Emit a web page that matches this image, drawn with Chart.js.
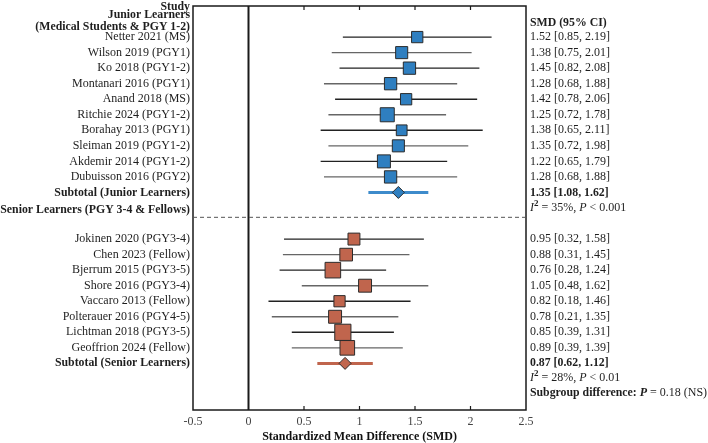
<!DOCTYPE html>
<html>
<head>
<meta charset="utf-8">
<script src="https://cdn.jsdelivr.net/npm/chart.js@4.4.1/dist/chart.umd.min.js"></script>
<style>
html, body { margin: 0; padding: 0; background: #fff; }
</style>
</head>
<body>
<canvas id="forest" width="708" height="443"></canvas>
<script>
// junior learners (medical students & PGY 1-2)
const juniorStudies = ["Netter 2021 (MS)", "Wilson 2019 (PGY1)", "Ko 2018 (PGY1-2)", "Montanari 2016 (PGY1)",
    "Anand 2018 (MS)", "Ritchie 2024 (PGY1-2)", "Borahay 2013 (PGY1)", "Sleiman 2019 (PGY1-2)",
    "Akdemir 2014 (PGY1-2)", "Dubuisson 2016 (PGY2)"];
const juniorSmd = [1.52, 1.38, 1.45, 1.28, 1.42, 1.25, 1.38, 1.35, 1.22, 1.28];
const juniorLow = [0.85, 0.75, 0.82, 0.68, 0.78, 0.72, 0.65, 0.72, 0.65, 0.68];
const juniorHigh = [2.19, 2.01, 2.08, 1.88, 2.06, 1.78, 2.11, 1.98, 1.79, 1.88];
const juniorWeight = [8.6, 9.8, 10.2, 10.2, 8.6, 13.3, 7.8, 9.8, 11.4, 10.2];
const juniorPooled = [1.35, 1.08, 1.62];

// senior learners (PGY 3-4 & fellows)
const seniorStudies = ["Jokinen 2020 (PGY3-4)", "Chen 2023 (Fellow)", "Bjerrum 2015 (PGY3-5)", "Shore 2016 (PGY3-4)",
    "Vaccaro 2013 (Fellow)", "Polterauer 2016 (PGY4-5)", "Lichtman 2018 (PGY3-5)", "Geoffrion 2024 (Fellow)"];
const seniorSmd = [0.95, 0.88, 0.76, 1.05, 0.82, 0.78, 0.85, 0.89];
const seniorLow = [0.32, 0.31, 0.28, 0.48, 0.18, 0.21, 0.39, 0.39];
const seniorHigh = [1.58, 1.45, 1.24, 1.62, 1.46, 1.35, 1.31, 1.39];
const seniorWeight = [9.6, 10.8, 16.4, 11.3, 8.5, 11.3, 17.7, 14.4];
const seniorPooled = [0.87, 0.62, 1.12];

const xTicks = [-0.5, 0, 0.5, 1, 1.5, 2, 2.5];

const FONT = '"Liberation Serif", "Times New Roman", serif';
const BLUE = "#2f7fc0";
const BLUE_LINE = "#3d8bcb";
const BROWN = "#c0654d";

// row positions: junior rows 1..10, subtotal 11, senior rows 14..21, subtotal 22
const juniorRows = juniorStudies.map((s, i) => i + 1);
const seniorRows = seniorStudies.map((s, i) => i + 14);
const juniorSubRow = 11;
const seniorSubRow = 22;

function fmt(v) { return v.toFixed(2); }
function boxRadius(w) { return 3.85 * Math.sqrt(w) / Math.SQRT2; }

const datasets = [];

// squares
datasets.push({
    type: "scatter",
    order: 0,
    data: juniorSmd.map((v, i) => ({ x: v, y: juniorRows[i] }))
        .concat(seniorSmd.map((v, i) => ({ x: v, y: seniorRows[i] }))),
    pointStyle: "rect",
    pointRadius: juniorWeight.map(boxRadius).concat(seniorWeight.map(boxRadius)),
    backgroundColor: juniorSmd.map(() => BLUE).concat(seniorSmd.map(() => BROWN)),
    borderColor: "#2b2b2b",
    borderWidth: 1
});

// pooled diamonds
datasets.push({
    type: "scatter",
    order: 0,
    data: [{ x: juniorPooled[0], y: juniorSubRow }, { x: seniorPooled[0], y: seniorSubRow }],
    pointStyle: "rectRot",
    pointRadius: 6,
    backgroundColor: [BLUE, BROWN],
    borderColor: "#2b2b2b",
    borderWidth: 1
});

// confidence intervals
juniorSmd.forEach((v, i) => {
    datasets.push({
        type: "line", order: 1,
        data: [{ x: juniorLow[i], y: juniorRows[i] }, { x: juniorHigh[i], y: juniorRows[i] }],
        borderColor: i % 2 ? "#666" : "#222", borderWidth: 1.4, pointRadius: 0
    });
});
seniorSmd.forEach((v, i) => {
    datasets.push({
        type: "line", order: 1,
        data: [{ x: seniorLow[i], y: seniorRows[i] }, { x: seniorHigh[i], y: seniorRows[i] }],
        borderColor: i % 2 ? "#666" : "#222", borderWidth: 1.4, pointRadius: 0
    });
});
datasets.push({
    type: "line", order: 1,
    data: [{ x: juniorPooled[1], y: juniorSubRow }, { x: juniorPooled[2], y: juniorSubRow }],
    borderColor: BLUE_LINE, borderWidth: 3, pointRadius: 0
});
datasets.push({
    type: "line", order: 1,
    data: [{ x: seniorPooled[1], y: seniorSubRow }, { x: seniorPooled[2], y: seniorSubRow }],
    borderColor: BROWN, borderWidth: 3, pointRadius: 0
});

// frame, inner ticks, null line, group separator
const framePlugin = {
    id: "frame",
    beforeDatasetsDraw(chart) {
        const { ctx, chartArea: a, scales } = chart;
        const x = scales.x, y = scales.y;
        ctx.save();
        ctx.strokeStyle = "#1a1a1a";
        ctx.lineWidth = 1.5;
        ctx.strokeRect(a.left, a.top, a.right - a.left, a.bottom - a.top);

        ctx.lineWidth = 1.2;
        xTicks.forEach(t => {
            if (t <= xTicks[0] || t >= xTicks[xTicks.length - 1] || t === 0) return;
            const px = x.getPixelForValue(t);
            ctx.beginPath();
            ctx.moveTo(px, a.bottom); ctx.lineTo(px, a.bottom - 4);
            ctx.moveTo(px, a.top); ctx.lineTo(px, a.top + 4);
            ctx.stroke();
        });

        const zx = x.getPixelForValue(0);
        ctx.lineWidth = 2;
        ctx.beginPath();
        ctx.moveTo(zx, a.top); ctx.lineTo(zx, a.bottom);
        ctx.stroke();

        const sy = y.getPixelForValue((juniorSubRow + seniorRows[0]) / 2 + 0.1);
        ctx.strokeStyle = "#555";
        ctx.lineWidth = 1;
        ctx.setLineDash([4, 3]);
        ctx.beginPath();
        ctx.moveTo(a.left, sy); ctx.lineTo(a.right, sy);
        ctx.stroke();
        ctx.restore();
    }
};

// study labels and effect sizes
function drawRuns(ctx, x, y, runs) {
    runs.forEach(r => {
        ctx.font = r.font;
        ctx.fillText(r.text, x, y + (r.dy || 0));
        x += ctx.measureText(r.text).width;
    });
}

const textPlugin = {
    id: "texts",
    afterDraw(chart) {
        const { ctx, chartArea: a, scales } = chart;
        const y = scales.y;
        const reg = "12px " + FONT, bold = "bold 11.8px " + FONT;
        const lx = a.left - 3, rx = a.right + 4;
        ctx.save();
        ctx.fillStyle = "#1e1e1e";
        ctx.textBaseline = "middle";

        ctx.textAlign = "right";
        ctx.font = bold;
        ctx.fillText("Study", lx, y.getPixelForValue(-0.95));
        ctx.fillText("Junior Learners", lx, y.getPixelForValue(-0.42));
        ctx.fillText("(Medical Students & PGY 1-2)", lx, y.getPixelForValue(0.35));
        ctx.fillText("Subtotal (Junior Learners)", lx, y.getPixelForValue(juniorSubRow));
        ctx.fillText("Senior Learners (PGY 3-4 & Fellows)", lx, y.getPixelForValue(12.1));
        ctx.fillText("Subtotal (Senior Learners)", lx, y.getPixelForValue(seniorSubRow));
        ctx.font = reg;
        juniorStudies.forEach((s, i) => ctx.fillText(s, lx, y.getPixelForValue(juniorRows[i])));
        seniorStudies.forEach((s, i) => ctx.fillText(s, lx, y.getPixelForValue(seniorRows[i])));

        ctx.textAlign = "left";
        ctx.font = bold;
        ctx.fillText("SMD (95% CI)", rx, y.getPixelForValue(0.1));
        ctx.font = reg;
        juniorSmd.forEach((v, i) => ctx.fillText(fmt(v) + " [" + fmt(juniorLow[i]) + ", " + fmt(juniorHigh[i]) + "]",
            rx, y.getPixelForValue(juniorRows[i])));
        seniorSmd.forEach((v, i) => ctx.fillText(fmt(v) + " [" + fmt(seniorLow[i]) + ", " + fmt(seniorHigh[i]) + "]",
            rx, y.getPixelForValue(seniorRows[i])));
        ctx.font = bold;
        ctx.fillText(fmt(juniorPooled[0]) + " [" + fmt(juniorPooled[1]) + ", " + fmt(juniorPooled[2]) + "]",
            rx, y.getPixelForValue(juniorSubRow));
        ctx.fillText(fmt(seniorPooled[0]) + " [" + fmt(seniorPooled[1]) + ", " + fmt(seniorPooled[2]) + "]",
            rx, y.getPixelForValue(seniorSubRow));

        const ital = "italic 12px " + FONT, sup = "bold 9px " + FONT;
        drawRuns(ctx, rx, y.getPixelForValue(12), [
            { text: "I", font: ital }, { text: "2", font: sup, dy: -4 },
            { text: " = 35%, ", font: reg }, { text: "P", font: ital }, { text: " < 0.001", font: reg }
        ]);
        drawRuns(ctx, rx, y.getPixelForValue(22.95), [
            { text: "I", font: ital }, { text: "2", font: sup, dy: -4 },
            { text: " = 28%, ", font: reg }, { text: "P", font: ital }, { text: " < 0.01", font: reg }
        ]);
        drawRuns(ctx, rx, y.getPixelForValue(23.9), [
            { text: "Subgroup difference: ", font: bold }, { text: "P", font: "bold italic 12px " + FONT },
            { text: " = 0.18 (NS)", font: reg }
        ]);
        ctx.restore();
    }
};

new Chart(document.getElementById("forest").getContext("2d"), {
    type: "scatter",
    data: { datasets: datasets },
    options: {
        responsive: false,
        animation: false,
        devicePixelRatio: 1,
        layout: { autoPadding: false, padding: { left: 193, right: 182, top: 6, bottom: 0 } },
        plugins: { legend: { display: false }, tooltip: { enabled: false } },
        scales: {
            x: {
                type: "linear",
                min: -0.5,
                max: 2.5,
                afterBuildTicks: axis => { axis.ticks = xTicks.map(v => ({ value: v })); },
                afterFit: axis => { axis.height = 33; },
                ticks: {
                    color: "#444",
                    font: { family: FONT, size: 12 },
                    padding: 5,
                    callback: v => String(v)
                },
                grid: { display: false, drawTicks: false },
                border: { display: false },
                title: {
                    display: true,
                    text: "Standardized Mean Difference (SMD)",
                    color: "#111",
                    font: { family: FONT, size: 12, weight: "bold" },
                    padding: { top: 0, bottom: -1 }
                }
            },
            y: {
                type: "linear",
                min: -1,
                max: 25,
                reverse: true,
                display: false
            }
        }
    },
    plugins: [framePlugin, textPlugin]
});
</script>
</body>
</html>
